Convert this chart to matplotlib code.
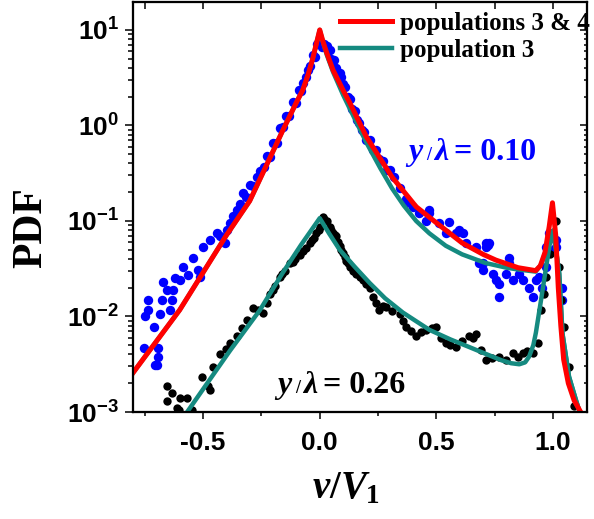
import matplotlib
matplotlib.use("Agg")
import matplotlib.pyplot as plt
from matplotlib.ticker import MultipleLocator, FixedLocator, FormatStrFormatter, LogLocator, NullFormatter

plt.rcParams["font.family"] = "Liberation Sans"
plt.rcParams["mathtext.fontset"] = "custom"
plt.rcParams["mathtext.it"] = "Liberation Serif:italic:bold"
plt.rcParams["mathtext.rm"] = "Liberation Serif:bold"
plt.rcParams["axes.unicode_minus"] = False

# measured PDF, y/lambda = 0.10 (blue dots)
blue_v = [-0.755, -0.705, -0.697, -0.691, -0.691, -0.712, -0.748, -0.734, -0.734, -0.684,
          -0.677, -0.641, -0.655, -0.634, -0.670, -0.627, -0.620, -0.598, -0.584, -0.563,
          -0.541, -0.520, -0.513, -0.499, -0.470, -0.441, -0.427, -0.406, -0.399, -0.385,
          -0.370, -0.356, -0.342, -0.329, -0.300, -0.270, -0.240, -0.214, -0.185, -0.158,
          -0.130, -0.100, -0.080, -0.057, -0.040, -0.021, 0.010, 0.020, 0.030, 0.043,
          0.060, 0.085, 0.100, 0.120, 0.140, 0.158, 0.180, 0.200, 0.230, 0.256,
          0.290, 0.320, 0.345, 0.370, 0.370, 0.400, 0.427, 0.456, 0.470, 0.470,
          0.513, 0.541, 0.555, 0.584, 0.598, 0.612, 0.627, 0.670, 0.684, 0.698,
          0.698, 0.712, 0.712, 0.720, 0.726, 0.741, 0.755, 0.769, 0.769, 0.798,
          0.810, 0.812, 0.826, 0.855, 0.869, 0.897, 0.912, 0.926, 0.940, 0.954,
          0.969, 0.969, 0.983, 0.983, 1.011, 1.011, 1.040, 1.040,
          -0.315, -0.285, -0.255, -0.225, -0.200, -0.170, -0.145, -0.115, -0.090, -0.070,
          -0.050, -0.030, -0.010, 0.050, 0.070, 0.090, 0.110, 0.130, 0.150, 0.170,
          0.190, 0.215, 0.240, 0.270, 0.300]
blue_pdf = [4.7e-3, 3.1e-3, 3.1e-3, 3.8e-3, 4.7e-3, 7.8e-3, 0.010, 0.0117, 0.0148, 0.0107,
            0.0148, 0.0117, 0.019, 0.0148, 0.023, 0.019, 0.025, 0.024, 0.033, 0.027,
            0.041, 0.031, 0.026, 0.054, 0.063, 0.074, 0.069, 0.059, 0.081, 0.095,
            0.112, 0.13, 0.15, 0.195, 0.24, 0.29, 0.37, 0.47, 0.66, 0.96,
            1.25, 1.7, 2.3, 3.2, 4.2, 5.2, 6.6, 7.2, 6.8, 6.2,
            4.8, 3.5, 2.7, 2.0, 1.5, 1.14, 0.9, 0.71, 0.55, 0.44,
            0.34, 0.29, 0.22, 0.17, 0.155, 0.14, 0.12, 0.10, 0.12, 0.13,
            0.095, 0.075, 0.098, 0.075, 0.081, 0.075, 0.059, 0.054, 0.036, 0.031,
            0.036, 0.054, 0.059, 0.056, 0.059, 0.028, 0.024, 0.022, 0.016, 0.028,
            0.041, 0.036, 0.024, 0.028, 0.024, 0.020, 0.016, 0.024, 0.026, 0.020,
            0.033, 0.054, 0.050, 0.074, 0.054, 0.063, 0.020, 0.015,
            0.178, 0.234, 0.33, 0.48, 0.65, 0.93, 1.26, 1.78, 2.34, 2.8,
            3.8, 5.4, 7.1, 5.0, 4.0, 3.2, 2.5, 1.9, 1.4, 1.05,
            0.85, 0.70, 0.55, 0.42, 0.34]

# measured PDF, y/lambda = 0.26 (black dots)
black_v = [-0.655, -0.634, -0.655, -0.598, -0.570, -0.605, -0.549, -0.611, -0.506, -0.477,
           -0.470, -0.456, -0.427, -0.400, -0.385, -0.356, -0.335, -0.313, -0.285, -0.265,
           -0.242, -0.228, -0.214, -0.190, -0.171, -0.150, -0.128, -0.105, -0.085, -0.060,
           -0.043, -0.025, -0.014, 0.000, 0.014, 0.030, 0.043, 0.057, 0.071, 0.085,
           0.100, 0.114, 0.128, 0.143, 0.157, 0.171, 0.185, 0.200, 0.214, 0.228,
           0.240, 0.256, 0.270, 0.285, 0.310, 0.342, 0.355, 0.370, 0.390, 0.413,
           0.435, 0.456, 0.480, 0.499, 0.520, 0.541, 0.560, 0.584, 0.610, 0.641,
           0.655, 0.670, 0.690, 0.712, 0.740, 0.769, 0.800, 0.826, 0.850, 0.869,
           0.890, 0.912, 0.933, 0.947, 0.962, 0.969, 0.985, 0.997, 1.011, 1.026,
           1.035, 1.047, 1.068, 1.090,
           0.020, 0.050, 0.065, 0.080, 0.092, 0.107, 0.120, -0.070, -0.035, -0.005,
           -0.115, -0.160, -0.200]
black_pdf = [1.85e-3, 1.6e-3, 1.3e-3, 1.4e-3, 1.4e-3, 1.05e-3, 1.05e-3, 1.1e-3, 2.35e-3, 1.85e-3,
             1.7e-3, 2.95e-3, 4.0e-3, 4.6e-3, 5.3e-3, 6.2e-3, 7.5e-3, 9.2e-3, 0.0124, 0.0118,
             0.0108, 0.014, 0.0174, 0.021, 0.026, 0.030, 0.036, 0.040, 0.044, 0.052,
             0.059, 0.066, 0.074, 0.087, 0.111, 0.100, 0.087, 0.075, 0.069, 0.055,
             0.046, 0.038, 0.033, 0.030, 0.028, 0.026, 0.024, 0.022, 0.020, 0.016,
             0.014, 0.0117, 0.013, 0.0127, 0.0115, 0.0107, 0.009, 7.8e-3, 7.0e-3, 6.2e-3,
             6.8e-3, 7.2e-3, 7.5e-3, 7.8e-3, 6.0e-3, 5.3e-3, 5.0e-3, 4.8e-3, 5.5e-3, 6.2e-3,
             6.0e-3, 6.6e-3, 4.5e-3, 3.5e-3, 3.7e-3, 3.8e-3, 3.5e-3, 4.1e-3, 3.8e-3, 4.1e-3,
             4.3e-3, 4.1e-3, 5.3e-3, 0.0117, 0.0174, 0.026, 0.045, 0.069, 0.10, 0.033,
             0.015, 7.8e-3, 2.95e-3, 1.15e-3,
             0.105, 0.080, 0.072, 0.060, 0.050, 0.042, 0.036, 0.048, 0.063, 0.080,
             0.037, 0.028, 0.019]

# model: populations 3 & 4, y/lambda = 0.10
fit34_v = [-0.82, -0.80, -0.60, -0.40, -0.30, -0.20, -0.158, -0.10, -0.073, -0.05,
           -0.03, -0.015, 0.0, 0.015, 0.03, 0.057, 0.10, 0.128, 0.20, 0.26,
           0.31, 0.413, 0.50, 0.61, 0.70, 0.755, 0.85, 0.925, 0.945, 0.965,
           0.983, 0.997, 1.011, 1.022, 1.033, 1.045, 1.065, 1.09, 1.125]
fit34_pdf = [2.19e-3, 2.57e-3, 0.0117, 0.0708, 0.162, 0.537, 0.891, 1.74, 2.34, 3.39,
             5.01, 7.08, 10.0, 7.41, 5.75, 3.80, 2.34, 1.74, 0.759, 0.447,
             0.288, 0.141, 0.0955, 0.0589, 0.0447, 0.0389, 0.0324, 0.0302, 0.0339, 0.0468,
             0.0871, 0.155, 0.0708, 0.020, 7.94e-3, 3.55e-3, 2.0e-3, 1.32e-3, 9.3e-4]

# model: population 3, y/lambda = 0.10
fit3a_v = [-0.82, -0.80, -0.60, -0.40, -0.30, -0.20, -0.158, -0.10, -0.073, -0.05,
           -0.03, -0.015, 0.0, 0.015, 0.03, 0.057, 0.10, 0.128, 0.20, 0.26,
           0.31, 0.36, 0.413, 0.47, 0.54, 0.61, 0.71, 0.80, 0.855, 0.925,
           0.95, 0.97, 0.985, 1.0, 1.012, 1.026, 1.04, 1.068, 1.097, 1.12]
fit3a_pdf = [2.19e-3, 2.57e-3, 0.0117, 0.0708, 0.162, 0.537, 0.891, 1.74, 2.34, 3.39,
             5.01, 7.08, 10.0, 7.24, 5.50, 3.63, 2.09, 1.51, 0.661, 0.355,
             0.219, 0.145, 0.10, 0.0741, 0.055, 0.0447, 0.0363, 0.0324, 0.0309, 0.0295,
             0.0355, 0.0501, 0.0676, 0.0794, 0.0501, 0.0282, 6.61e-3, 2.34e-3, 1.35e-3, 8.9e-4]

# model: population 3, y/lambda = 0.26
fit3b_v = [-0.60, -0.568, -0.385, -0.256, -0.158, -0.08, 0.0, 0.04, 0.085, 0.15,
           0.214, 0.28, 0.356, 0.47, 0.56, 0.64, 0.71, 0.78, 0.82, 0.855,
           0.88, 0.897, 0.915, 0.926, 0.948, 0.97, 0.985, 1.0, 1.012, 1.026,
           1.04, 1.068, 1.097, 1.12]
fit3b_pdf = [7.6e-4, 1.0e-3, 4.37e-3, 0.0117, 0.0288, 0.0562, 0.107, 0.0741, 0.0501, 0.0331,
             0.0224, 0.0155, 0.011, 7.24e-3, 5.75e-3, 4.79e-3, 4.07e-3, 3.47e-3, 3.24e-3, 3.16e-3,
             3.31e-3, 3.80e-3, 5.01e-3, 6.76e-3, 0.0148, 0.0331, 0.0562, 0.0794, 0.0501, 0.0282,
             6.61e-3, 2.34e-3, 1.35e-3, 8.9e-4]

x_ticks = [-0.5, 0.0, 0.5, 1.0]
xlim = (-0.8, 1.145)
ylim = (1e-3, 19.6)

RED = "#ff0000"
TEAL = "#158a80"
W, H = 594, 519

fig = plt.figure(figsize=(W / 100, H / 100), dpi=100)
ax = fig.add_axes([133 / W, 1 - 412 / H, 454 / W, 410 / H])

ax.scatter(blue_v, blue_pdf, s=46, color="#0000ff", linewidths=0, zorder=2)
ax.scatter(black_v, black_pdf, s=36, color="black", linewidths=0, zorder=2)
ax.plot(fit3b_v, fit3b_pdf, color=TEAL, lw=3.2, zorder=3)
ax.plot(fit3a_v, fit3a_pdf, color=TEAL, lw=3.2, zorder=3, label="population 3")
ax.plot(fit34_v, fit34_pdf, color=RED, lw=3.6, zorder=4, label="populations 3 & 4")

ax.set_yscale("log")
ax.set_xlim(*xlim)
ax.set_ylim(*ylim)
ax.xaxis.set_major_locator(FixedLocator(x_ticks))
ax.xaxis.set_minor_locator(MultipleLocator(0.25))
ax.xaxis.set_major_formatter(FormatStrFormatter("%.1f"))
ax.yaxis.set_major_locator(LogLocator(base=10, numticks=10))
ax.yaxis.set_minor_locator(LogLocator(base=10, subs=range(2, 10), numticks=10))
ax.yaxis.set_minor_formatter(NullFormatter())

for s in ax.spines.values():
    s.set_linewidth(1.5)
ax.tick_params(which="both", direction="out", width=1.1, top=False, right=False)
ax.tick_params(axis="y", which="major", length=6, pad=4)
ax.tick_params(axis="y", which="minor", length=3.5)
ax.tick_params(axis="x", which="major", length=5, pad=9)
ax.tick_params(axis="x", which="minor", length=3)
for lab in ax.get_xticklabels() + ax.get_yticklabels():
    lab.set_fontweight("bold")
    lab.set_fontsize(19)

# mirrored ticks pointing inward on top and right
ax_r = ax.twinx()
ax_r.set_yscale("log")
ax_r.set_ylim(*ylim)
ax_r.yaxis.set_major_locator(LogLocator(base=10, numticks=10))
ax_r.yaxis.set_minor_locator(LogLocator(base=10, subs=range(2, 10), numticks=10))
ax_r.tick_params(which="both", direction="in", width=1.1, labelright=False)
ax_r.tick_params(which="major", length=5)
ax_r.tick_params(which="minor", length=2.5)
ax_t = ax.twiny()
ax_t.set_xlim(*xlim)
ax_t.xaxis.set_major_locator(FixedLocator(x_ticks))
ax_t.xaxis.set_minor_locator(MultipleLocator(0.25))
ax_t.tick_params(which="both", direction="in", width=1.1, length=5, labeltop=False)
for s in list(ax_r.spines.values()) + list(ax_t.spines.values()):
    s.set_linewidth(1.5)

ax.set_ylabel("PDF", fontfamily="Liberation Serif", fontweight="bold", fontsize=30)
ax.yaxis.set_label_coords((50 - 133) / 454, (412 - 228) / 410)
ax.set_xlabel("$v/V_1$", fontsize=28)
ax.xaxis.set_label_coords((346 - 133) / 454, -(470 - 412) / 410)

handles, labels = ax.get_legend_handles_labels()
leg = ax_t.legend(handles[::-1], labels[::-1], loc="upper left", bbox_to_anchor=((340 - 133) / 454, 0.976),
                  frameon=False, borderpad=0, borderaxespad=0, handlelength=2.1, handletextpad=0.3,
                  labelspacing=0.15, prop={"family": "Liberation Serif", "weight": "bold", "size": 18})


def label(x, y, parts, color):
    # parts: (text, x offset px, size, style)
    for txt, dx, size, style in parts:
        fig.text((x + dx) / W, 1 - y / H, txt, color=color, fontsize=size, fontweight="bold",
                 fontstyle=style, fontfamily="Liberation Serif", va="baseline", ha="left")


label(408, 160, [("y", 0, 23, "italic"), ("/", 18, 13, "normal"), ("λ", 26, 23, "italic"),
                 ("= 0.10", 46, 23, "normal")], "#0000ff")
label(277, 393, [("y", 0, 23, "italic"), ("/", 18, 13, "normal"), ("λ", 26, 23, "italic"),
                 ("= 0.26", 46, 23, "normal")], "black")

fig.savefig("out.png", dpi=100)
